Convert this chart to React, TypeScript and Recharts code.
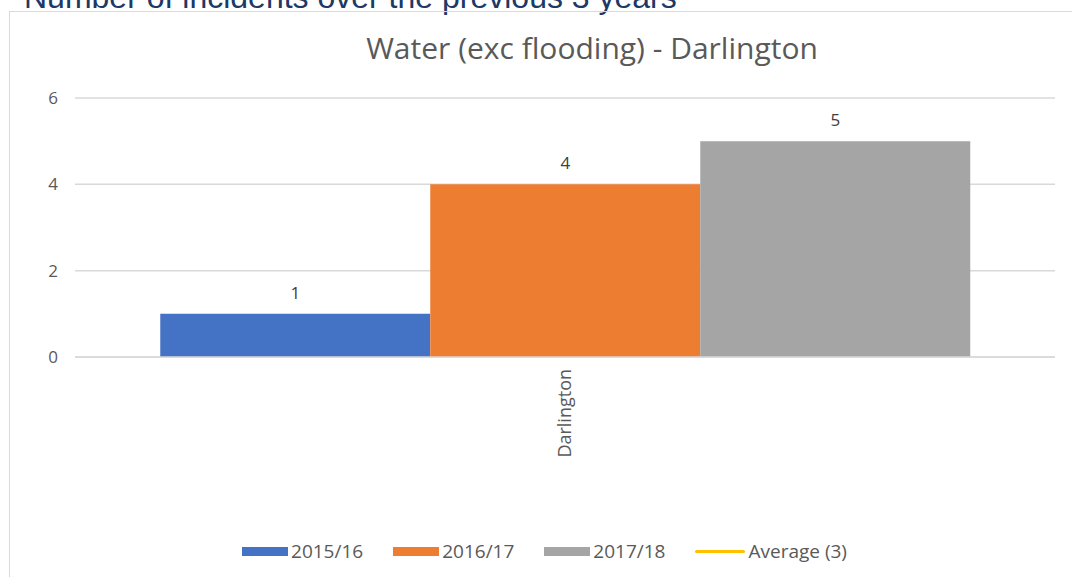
import React from 'react';
import { ComposedChart, Bar, XAxis, YAxis, CartesianGrid, Legend, LabelList } from 'recharts';

const categories = ['Darlington'];
const values201516 = [1];
const values201617 = [4];
const values201718 = [5];
const averageValue = 3;
const yTicks = [0, 2, 4, 6];

const data = categories.map((name, i) => ({
  name,
  y1516: values201516[i],
  y1617: values201617[i],
  y1718: values201718[i],
}));

const legendItems = [
  { label: '2015/16', color: '#4472c4', type: 'rect' },
  { label: '2016/17', color: '#ed7d31', type: 'rect' },
  { label: '2017/18', color: '#a5a5a5', type: 'rect' },
  { label: `Average (${averageValue})`, color: '#ffc000', type: 'line' },
];

const LegendContent = () => (
  <div style={{ display: 'flex', justifyContent: 'center', alignItems: 'center', fontFamily: '"Open Sans", sans-serif', fontSize: 19, color: '#595959', paddingLeft: 6 }}>
    {legendItems.map((it, i) => (
      <div key={i} style={{ display: 'flex', alignItems: 'center', marginRight: i < legendItems.length - 1 ? 30 : 0 }}>
        <div style={{ width: it.type === 'rect' ? 46 : 50, height: it.type === 'rect' ? 9 : 3, background: it.color, borderRadius: it.type === 'line' ? 2 : 0, marginRight: 3 }} />
        <span>{it.label}</span>
      </div>
    ))}
  </div>
);

const RotTick = (props: any) => {
  const { x, y, payload } = props;
  const tx = x + 6;
  const ty = y + 4;
  return (
    <text x={tx} y={ty} transform={`rotate(-90 ${tx} ${ty})`} textAnchor="end" fill="#595959" fontSize={18} fontFamily='"Open Sans", sans-serif'>
      {payload.value}
    </text>
  );
};

export default function App() {
  return (
    <div style={{ position: 'absolute', left: 0, top: 0, width: 1072, height: 577, overflow: 'hidden', background: '#fff' }}>
      <div style={{ position: 'absolute', left: 24, top: -19, fontFamily: '"Liberation Sans", Arial, sans-serif', fontSize: 32, color: '#203864', whiteSpace: 'nowrap', lineHeight: '32px' }}>
        Number of incidents over the previous 3 years
      </div>
      <div style={{ position: 'absolute', left: 9, top: 11, width: 1080, height: 600, border: '1px solid #d9d9d9', boxSizing: 'border-box' }} />
      <div style={{ position: 'absolute', left: 0, top: 31, width: 1072, textAlign: 'center', paddingLeft: 112, boxSizing: 'border-box', fontFamily: '"Open Sans", sans-serif', fontSize: 30, color: '#595959', lineHeight: '34px', whiteSpace: 'nowrap' }}>
        Water (exc flooding) - Darlington
      </div>
      <div style={{ position: 'absolute', left: 10, top: 12 }}>
        <ComposedChart width={1063} height={566} data={data} margin={{ top: 86, right: 18, left: 0, bottom: 0 }} barCategoryGap="8.7%" barGap={0}>
          <CartesianGrid vertical={false} stroke="#d9d9d9" strokeWidth={1.5} />
          <XAxis dataKey="name" height={221} axisLine={{ stroke: '#d9d9d9', strokeWidth: 1.5 }} tickLine={false} tick={<RotTick />} interval={0} />
          <YAxis width={65} domain={[0, 6]} ticks={yTicks} axisLine={false} tickLine={false} tickMargin={11} tick={{ fill: '#595959', fontSize: 17, fontFamily: '"Open Sans", sans-serif' }} />
          <Bar dataKey="y1516" fill="#4472c4" isAnimationActive={false}>
            <LabelList dataKey="y1516" position="top" offset={15} fill="#404040" fontSize={17} fontFamily='"Open Sans", sans-serif' />
          </Bar>
          <Bar dataKey="y1617" fill="#ed7d31" isAnimationActive={false}>
            <LabelList dataKey="y1617" position="top" offset={15} fill="#404040" fontSize={17} fontFamily='"Open Sans", sans-serif' />
          </Bar>
          <Bar dataKey="y1718" fill="#a5a5a5" isAnimationActive={false}>
            <LabelList dataKey="y1718" position="top" offset={15} fill="#404040" fontSize={17} fontFamily='"Open Sans", sans-serif' />
          </Bar>
          <Legend verticalAlign="middle" layout="horizontal" content={<LegendContent />} wrapperStyle={{ top: 526, left: 0, width: 1063, height: 28 }} />
        </ComposedChart>
      </div>
    </div>
  );
}
